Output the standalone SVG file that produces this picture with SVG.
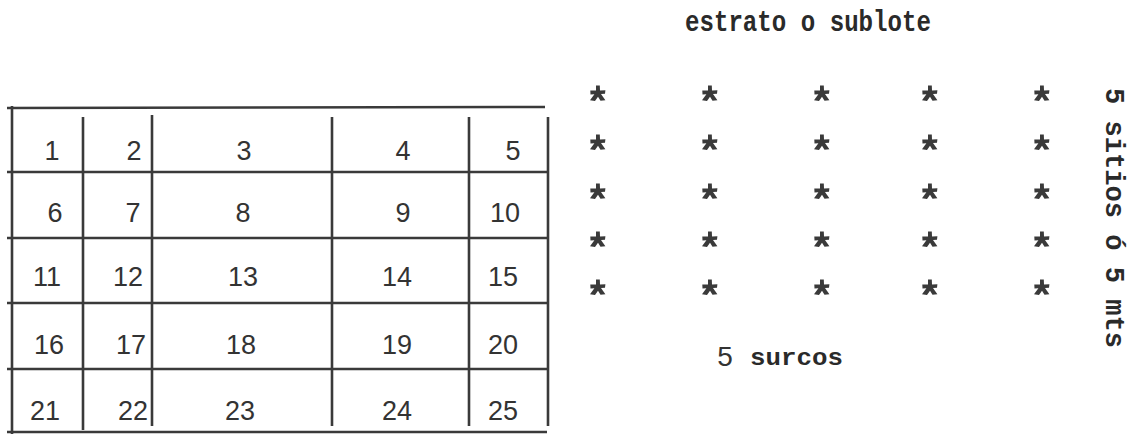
<svg xmlns="http://www.w3.org/2000/svg" width="1141" height="434" viewBox="0 0 1141 434">
<style>
.ln{stroke:#3a3a3a;stroke-width:2.6;fill:none;stroke-linecap:butt}
.num{font-family:"Liberation Sans","DejaVu Sans",sans-serif;font-size:27px;fill:#333;text-anchor:middle}
.tw{font-family:"Liberation Mono","Courier New",monospace;font-weight:bold;font-size:24px;fill:#2a2a2a}
.pl{fill:#3a3a3a}
</style>
<defs>
<path id="star" class="pl" d="M-2,-8.5 L1.8,-8.5 L2,-3.6 L7.4,-3.8 L7,-0.2 L3,0 L7.4,6.2 L2.5,6.8 L0,2.7 L-3,7 L-8,6.3 L-3.6,0.2 L-7.5,0.4 L-7.7,-3.4 L-2,-3.6 Z"/>
</defs>
<rect width="1141" height="434" fill="#fff"/>
<g id="grid">
<g id="hlines">
<line class="ln" x1="7" y1="108" x2="545" y2="107"/>
<line class="ln" x1="7" y1="172" x2="547" y2="172"/>
<line class="ln" x1="7" y1="238" x2="547" y2="238"/>
<line class="ln" x1="7" y1="303" x2="547" y2="303"/>
<line class="ln" x1="7" y1="369" x2="547" y2="369"/>
<line class="ln" x1="7" y1="432" x2="547" y2="432"/>
</g>
<g id="vlines">
<line class="ln" x1="12" y1="106" x2="12" y2="434"/>
<line class="ln" x1="83" y1="117" x2="83" y2="430"/>
<line class="ln" x1="152" y1="115" x2="152" y2="426"/>
<line class="ln" x1="332" y1="117" x2="332" y2="426"/>
<line class="ln" x1="469" y1="117" x2="469" y2="426"/>
<line class="ln" x1="548" y1="117" x2="548" y2="426"/>
</g>
</g>
<g id="cells">
<text class="num" x="52" y="160">1</text>
<text class="num" x="134" y="160">2</text>
<text class="num" x="244" y="160">3</text>
<text class="num" x="403" y="160">4</text>
<text class="num" x="513" y="160">5</text>
<text class="num" x="55" y="222">6</text>
<text class="num" x="133" y="222">7</text>
<text class="num" x="243" y="222">8</text>
<text class="num" x="403" y="222">9</text>
<text class="num" x="505" y="222">10</text>
<text class="num" x="47" y="286">11</text>
<text class="num" x="128" y="286">12</text>
<text class="num" x="243" y="286">13</text>
<text class="num" x="397" y="286">14</text>
<text class="num" x="503" y="286">15</text>
<text class="num" x="49" y="354">16</text>
<text class="num" x="131" y="354">17</text>
<text class="num" x="241" y="354">18</text>
<text class="num" x="397" y="354">19</text>
<text class="num" x="503" y="354">20</text>
<text class="num" x="45" y="420">21</text>
<text class="num" x="133" y="420">22</text>
<text class="num" x="240" y="420">23</text>
<text class="num" x="397" y="420">24</text>
<text class="num" x="503" y="420">25</text>
</g>
<g id="title">
<text class="tw" x="685" y="31" transform="translate(0,-6) scale(1,1.2)" textLength="246" lengthAdjust="spacingAndGlyphs">estrato o sublote</text>
</g>
<g id="plants">
<use href="#star" x="598" y="94"/><use href="#star" x="710" y="94"/><use href="#star" x="822" y="94"/><use href="#star" x="930" y="94"/><use href="#star" x="1042" y="94"/>
<use href="#star" x="598" y="143"/><use href="#star" x="710" y="143"/><use href="#star" x="822" y="143"/><use href="#star" x="930" y="143"/><use href="#star" x="1042" y="143"/>
<use href="#star" x="598" y="192"/><use href="#star" x="710" y="192"/><use href="#star" x="822" y="192"/><use href="#star" x="930" y="192"/><use href="#star" x="1042" y="192"/>
<use href="#star" x="598" y="240"/><use href="#star" x="710" y="240"/><use href="#star" x="822" y="240"/><use href="#star" x="930" y="240"/><use href="#star" x="1042" y="240"/>
<use href="#star" x="598" y="288"/><use href="#star" x="710" y="288"/><use href="#star" x="822" y="288"/><use href="#star" x="930" y="288"/><use href="#star" x="1042" y="288"/>
</g>
<g id="surcos">
<text class="num" x="725" y="366" style="font-size:28px">5</text>
<text class="tw" x="750" y="365" textLength="93" lengthAdjust="spacingAndGlyphs">surcos</text>
</g>
<g id="sitios">
<text class="tw" transform="translate(1106,88) rotate(90)" x="0" y="0" style="font-size:27px" textLength="260" lengthAdjust="spacingAndGlyphs">5 sitios ó 5 mts</text>
</g>
</svg>
